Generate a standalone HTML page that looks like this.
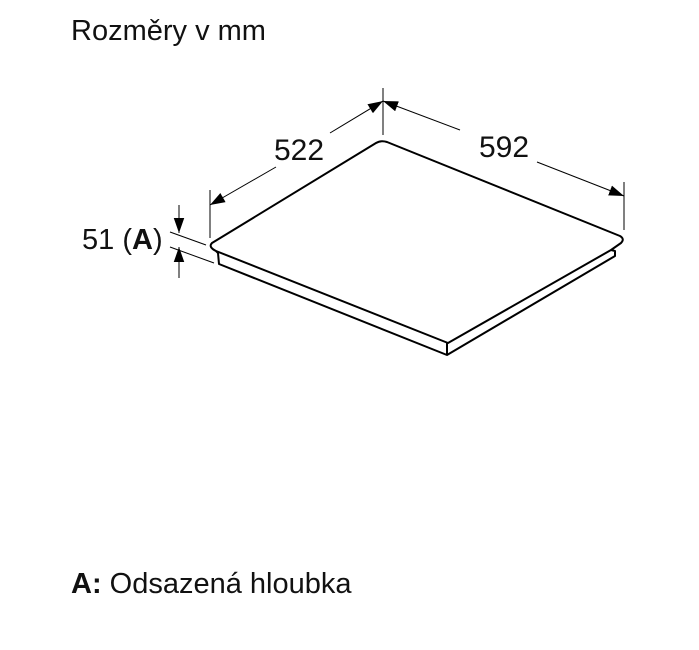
<!DOCTYPE html>
<html><head><meta charset="utf-8"><style>
body{margin:0;background:#fff;}
svg{display:block}
text{font-family:"Liberation Sans",Arial,sans-serif;fill:#111}
</style></head><body>
<svg width="699" height="650" viewBox="0 0 699 650">
<defs>
<marker id="ar" viewBox="0 0 10 10" refX="10" refY="5" markerWidth="15" markerHeight="15" markerUnits="userSpaceOnUse" orient="auto"><path d="M0,1.5 L10,5 L0,8.5 z" fill="#000"/></marker>
</defs>
<text x="71" y="40" font-size="29">Rozměry v mm</text>
<!-- plate -->
<g fill="none" stroke="#000" stroke-width="2" stroke-linejoin="round">
<path d="M212,243 L376,143 Q381,140 387,142 L620,236 Q625,239 621,243 L611,250 L448,343 L216,251 Q208,247 212,243 Z"/>
<path d="M216,251 L218,253 L219,264 L447,355 L447,343 M611,250 L615,251 L615,256 L447,355"/>
</g>
<!-- dimension lines -->
<g stroke="#000" stroke-width="1" fill="none">
<line x1="383" y1="88" x2="383" y2="135"/>
<line x1="210" y1="190" x2="210" y2="238"/>
<line x1="624" y1="182" x2="624" y2="230"/>
<line x1="276" y1="167" x2="210" y2="205" marker-end="url(#ar)"/>
<line x1="330" y1="133" x2="383" y2="101" marker-end="url(#ar)"/>
<line x1="460" y1="130" x2="383" y2="101" marker-end="url(#ar)"/>
<line x1="537" y1="162" x2="624" y2="196" marker-end="url(#ar)"/>
<line x1="170" y1="232" x2="206" y2="245"/>
<line x1="170" y1="247" x2="214" y2="263"/>
<line x1="179" y1="205" x2="179" y2="233" marker-end="url(#ar)"/>
<line x1="179" y1="278" x2="179" y2="247" marker-end="url(#ar)"/>
</g>
<text x="274" y="160" font-size="30">522</text>
<text x="479" y="157" font-size="30">592</text>
<text x="82" y="249" font-size="29">51 (<tspan font-weight="bold">A</tspan>)</text>
<text x="71" y="593" font-size="29"><tspan font-weight="bold">A:</tspan> Odsazená hloubka</text>
</svg>
</body></html>
